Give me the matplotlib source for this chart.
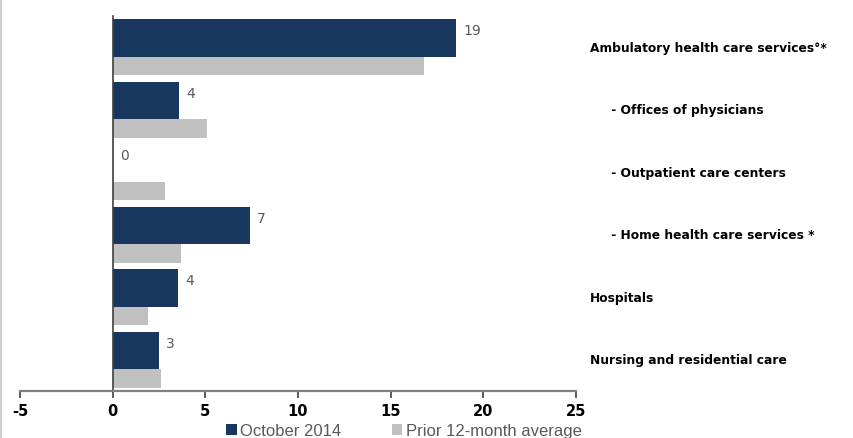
import matplotlib.pyplot as plt
from matplotlib.lines import Line2D
import numpy as np

categories = [
    'Ambulatory health care services°*',
    '     - Offices of physicians',
    '     - Outpatient care centers',
    '     - Home health care services *',
    'Hospitals',
    'Nursing and residential care',
]
october_2014 = [18.5, 3.6, 0.0, 7.4, 3.5, 2.5]
october_labels = ['19', '4', '0', '7', '4', '3']
prior_avg = [16.8, 5.1, 2.8, 3.7, 1.9, 2.6]
x_ticks = [-5, 0, 5, 10, 15, 20, 25]

navy = '#17375e'
grey = '#c0c0c0'
text_grey = '#595959'

fig = plt.figure(figsize=(8.54, 4.39), dpi=100)
ax = fig.add_axes([20 / 854, 1 - 392 / 439, 556 / 854, 375 / 439])

pos = np.arange(len(categories))
ax.barh(pos - 0.15, october_2014, height=0.60, color=navy, label='October 2014')
ax.barh(pos + 0.30, prior_avg, height=0.29, color=grey, label='Prior 12-month average')

for y, v, lab in zip(pos, october_2014, october_labels):
    ax.text(v + 0.4, y - 0.27, lab, va='center', ha='left', fontsize=10,
            color=text_grey)

ax.set_xlim(-5, 25)
ax.set_ylim(len(categories) - 0.5, -0.5)
ax.set_xticks(x_ticks)
ax.set_xticklabels([str(t) for t in x_ticks], fontsize=10.5, fontweight='bold')
ax.set_yticks([])

for s in ['top', 'right']:
    ax.spines[s].set_visible(False)
ax.spines['left'].set_position(('data', 0))
ax.spines['left'].set_color('#404040')
ax.spines['left'].set_linewidth(1.2)
ax.spines['bottom'].set_color('#808080')
ax.spines['bottom'].set_linewidth(1.6)
ax.tick_params(axis='x', direction='out', length=5, width=1.2, color='#404040', pad=4)

# category names on the right of the plot
for y, name in zip(pos, categories):
    ax.text(25.75, y, name, ha='left', va='center', fontsize=8.8,
            fontweight='bold', color='black', clip_on=False)

fig.legend(loc='lower center', bbox_to_anchor=(404 / 854, -0.035), ncol=2,
           frameon=False, labelcolor=text_grey,
           prop={'family': ['Liberation Sans', 'DejaVu Sans'], 'size': 12},
           handlelength=0.65, handleheight=0.65, handletextpad=0.2,
           columnspacing=3.0)

fig.add_artist(Line2D([0.001, 0.001], [0, 1], color='#d0d0d0', lw=1.5))

fig.savefig('out.png', dpi=100)
